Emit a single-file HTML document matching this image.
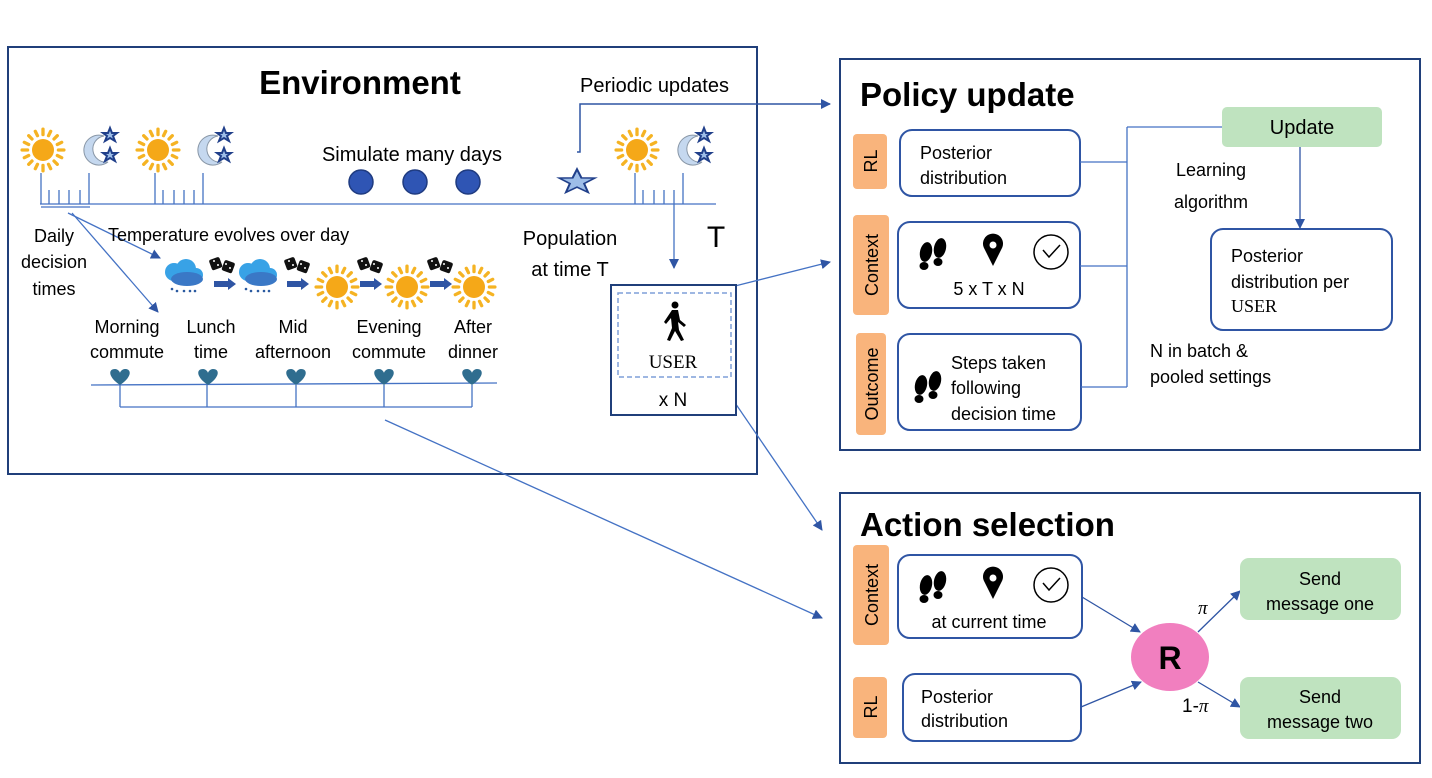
<!DOCTYPE html>
<html><head><meta charset="utf-8"><style>
body{margin:0;background:#fff}
svg text{font-family:"Liberation Sans",sans-serif;fill:#000}
</style></head><body>
<svg width="1432" height="773" viewBox="0 0 1432 773" xmlns="http://www.w3.org/2000/svg">
<defs>
<marker id="a" markerWidth="10" markerHeight="10" refX="9" refY="5" orient="auto" markerUnits="userSpaceOnUse" viewBox="0 0 10 10"><path d="M0,0 L10,5 L0,10 z" fill="#2f55a4"/></marker>
<g id="sun0"><g stroke="#f5b323" stroke-width="3" stroke-linecap="round">
<line x1="0" y1="-19" x2="0" y2="-14"/><line x1="0" y1="19" x2="0" y2="14"/><line x1="-19" y1="0" x2="-14" y2="0"/><line x1="19" y1="0" x2="14" y2="0"/>
<line x1="-13" y1="-13" x2="-10" y2="-10"/><line x1="13" y1="13" x2="10" y2="10"/><line x1="-13" y1="13" x2="-10" y2="10"/><line x1="13" y1="-13" x2="10" y2="-10"/>
<line x1="-7" y1="-17" x2="-5" y2="-13"/><line x1="7" y1="17" x2="5" y2="13"/><line x1="7" y1="-17" x2="5" y2="-13"/><line x1="-7" y1="17" x2="-5" y2="13"/>
<line x1="-17" y1="-7" x2="-13" y2="-5"/><line x1="17" y1="7" x2="13" y2="5"/><line x1="17" y1="-7" x2="13" y2="-5"/><line x1="-17" y1="7" x2="-13" y2="5"/></g>
<circle r="10" fill="#f5a818"/></g>
<g id="sun"><use href="#sun0" transform="scale(1.1)"/></g>
<g id="moon"><path d="M8,-14 A15,15 0 1 0 12,12 A12,12 0 1 1 8,-14z" fill="#c5d8ef" stroke="#8a98a8"/>
<path d="M14,-22 l2,5 5,0 -4,3 2,5 -5,-3 -5,3 2,-5 -4,-3 5,0z" fill="#9dbde8" stroke="#203f8a" stroke-width="2"/>
<path d="M14,-2 l2,5 5,0 -4,3 2,5 -5,-3 -5,3 2,-5 -4,-3 5,0z" fill="#9dbde8" stroke="#203f8a" stroke-width="2"/></g>
<g id="cloud"><circle cx="-8" cy="-3" r="9" fill="#38a2e6"/><circle cx="4" cy="-6" r="10" fill="#38a2e6"/><circle cx="14" cy="0" r="7" fill="#38a2e6"/>
<ellipse cx="5" cy="4" rx="16" ry="7" fill="#3a78c6"/><g fill="#2a5aa0"><circle cx="-10" cy="14" r="1.3"/><circle cx="-5" cy="16" r="1.3"/><circle cx="2" cy="16" r="1.3"/><circle cx="8" cy="16" r="1.3"/><circle cx="13" cy="16" r="1.3"/></g></g>
<g id="dice"><rect x="-12" y="-8" width="11" height="11" rx="2" fill="#111" transform="rotate(-20 -6 -3)"/><rect x="1" y="-5" width="11" height="11" rx="2" fill="#111" transform="rotate(20 6 0)"/>
<g fill="#fff"><circle cx="-8" cy="-5" r="1"/><circle cx="-4" cy="-1" r="1"/><circle cx="4" cy="-2" r="1"/><circle cx="8" cy="2" r="1"/></g></g>
<path id="arr" d="M0,-3 h14 v-3 l8,6 -8,6 v-3 h-14z" fill="#2f55a4"/>
<path id="heart" d="M0,8 C-12,0 -12,-8 -5,-8 C-2,-8 0,-5 0,-4 C0,-5 2,-8 5,-8 C12,-8 12,0 0,8z" fill="#2f6d8f"/>
<g id="feet"><ellipse cx="-6" cy="2" rx="6" ry="10" fill="#000" transform="rotate(12 -6 2)"/><ellipse cx="-8" cy="16" rx="4.5" ry="4" fill="#000"/><ellipse cx="8" cy="-2" rx="6" ry="10" fill="#000" transform="rotate(12 8 -2)"/><ellipse cx="6" cy="12" rx="4.5" ry="4" fill="#000"/></g>
<g id="pin"><path d="M0,16 L-9,-2 A10,10 0 1 1 9,-2z" fill="#000"/><circle cy="-5" r="3.5" fill="#fff"/></g>
<g id="clock"><circle r="17" fill="#fff" stroke="#000" stroke-width="1.5"/><path d="M-8,-2 L-2,5 L9,-7" fill="none" stroke="#000" stroke-width="1.5"/></g>
</defs>

<!-- Environment -->
<rect x="8" y="47" width="749" height="427" fill="none" stroke="#203f7a" stroke-width="2"/>
<text x="360" y="94" font-size="33" font-weight="bold" text-anchor="middle">Environment</text>
<text x="580" y="92" font-size="20">Periodic updates</text>
<polyline points="577,152 580,152 580,104 830,104" fill="none" stroke="#2f55a4" stroke-width="1.5" marker-end="url(#a)"/>
<path d="M0,-15 L3.53,-4.85 14.27,-4.64 5.71,1.85 8.82,12.14 0,6 -8.82,12.14 -5.71,1.85 -14.27,-4.64 -3.53,-4.85z" fill="#9dbde8" stroke="#203f8a" stroke-width="1.7" transform="translate(577,182) scale(1.25,0.85)"/>
<use href="#sun" x="43" y="150"/><use href="#moon" x="96" y="150"/>
<use href="#sun" x="158" y="150"/><use href="#moon" x="210" y="150"/>
<use href="#sun" x="637" y="150"/><use href="#moon" x="690" y="150"/>
<g stroke="#4472c4" stroke-width="1.3" fill="none">
<line x1="40" y1="204" x2="716" y2="204"/>
<line x1="41" y1="173" x2="41" y2="204"/><line x1="49" y1="190" x2="49" y2="204"/><line x1="59" y1="190" x2="59" y2="204"/><line x1="69" y1="190" x2="69" y2="204"/><line x1="80" y1="190" x2="80" y2="204"/><line x1="89" y1="173" x2="89" y2="204"/>
<line x1="155" y1="173" x2="155" y2="204"/><line x1="163" y1="190" x2="163" y2="204"/><line x1="174" y1="190" x2="174" y2="204"/><line x1="184" y1="190" x2="184" y2="204"/><line x1="194" y1="190" x2="194" y2="204"/><line x1="203" y1="173" x2="203" y2="204"/>
<line x1="635" y1="173" x2="635" y2="204"/><line x1="643" y1="190" x2="643" y2="204"/><line x1="654" y1="190" x2="654" y2="204"/><line x1="664" y1="190" x2="664" y2="204"/><line x1="674" y1="190" x2="674" y2="204"/><line x1="683" y1="173" x2="683" y2="204"/>
<line x1="41" y1="207" x2="90" y2="207"/>
<line x1="68" y1="213" x2="160" y2="258" marker-end="url(#a)"/>
<line x1="72" y1="213" x2="158" y2="312" marker-end="url(#a)"/>
<line x1="91" y1="385" x2="497" y2="383"/>
<line x1="120" y1="385" x2="120" y2="407"/><line x1="207" y1="385" x2="207" y2="407"/><line x1="296" y1="385" x2="296" y2="407"/><line x1="384" y1="385" x2="384" y2="407"/><line x1="472" y1="385" x2="472" y2="407"/>
<line x1="120" y1="407" x2="472" y2="407"/>
<line x1="674" y1="204" x2="674" y2="268" marker-end="url(#a)"/>
<line x1="735" y1="286" x2="830" y2="262" marker-end="url(#a)"/>
<line x1="718" y1="378" x2="822" y2="530" marker-end="url(#a)"/>
<line x1="385" y1="420" x2="822" y2="618" marker-end="url(#a)"/>
</g>
<g fill="#2f55b4" stroke="#1f3b80" stroke-width="1.5"><circle cx="361" cy="182" r="12"/><circle cx="415" cy="182" r="12"/><circle cx="468" cy="182" r="12"/></g>
<text x="412" y="161" font-size="20" text-anchor="middle">Simulate many days</text>
<g font-size="18" text-anchor="middle"><text x="54" y="242">Daily</text><text x="54" y="268">decision</text><text x="54" y="295">times</text></g>
<text x="108" y="241" font-size="18">Temperature evolves over day</text>
<use href="#cloud" x="182" y="275"/><use href="#arr" x="214" y="284"/><use href="#cloud" x="256" y="275"/><use href="#arr" x="287" y="284"/>
<use href="#sun" x="337" y="287"/><use href="#arr" x="360" y="284"/><use href="#sun" x="407" y="287"/><use href="#arr" x="430" y="284"/><use href="#sun" x="474" y="287"/>
<use href="#dice" x="222" y="266"/><use href="#dice" x="297" y="266"/><use href="#dice" x="370" y="266"/><use href="#dice" x="440" y="266"/>
<g font-size="18" text-anchor="middle">
<text x="127" y="333">Morning</text><text x="127" y="358">commute</text>
<text x="211" y="333">Lunch</text><text x="211" y="358">time</text>
<text x="293" y="333">Mid</text><text x="293" y="358">afternoon</text>
<text x="389" y="333">Evening</text><text x="389" y="358">commute</text>
<text x="473" y="333">After</text><text x="473" y="358">dinner</text></g>
<use href="#heart" x="120" y="377"/><use href="#heart" x="208" y="377"/><use href="#heart" x="296" y="377"/><use href="#heart" x="384" y="377"/><use href="#heart" x="472" y="377"/>
<g font-size="20" text-anchor="middle"><text x="570" y="245">Population</text><text x="570" y="276">at time T</text></g>
<text x="716" y="247" font-size="30" text-anchor="middle">T</text>
<rect x="611" y="285" width="125" height="130" fill="#fff" stroke="#203f7a" stroke-width="2"/>
<rect x="618" y="293" width="113" height="84" fill="none" stroke="#7f9fd8" stroke-width="1.5" stroke-dasharray="5,3"/>
<g fill="#000"><circle cx="675" cy="305" r="3.5"/><path d="M672,310 L678,310 L680,320 L686,325 L684,327 L678,322 L679,330 L684,340 L681,341 L675,331 L670,341 L667,340 L672,328 L671,318 L666,324 L664,322 z"/></g>
<text x="673" y="368" font-size="19" text-anchor="middle" style="font-family:'Liberation Serif',serif" fill="#333">USER</text>
<text x="673" y="406" font-size="19" text-anchor="middle">x N</text>

<!-- Policy update -->
<rect x="840" y="59" width="580" height="391" fill="none" stroke="#203f7a" stroke-width="2"/>
<text x="860" y="106" font-size="33" font-weight="bold">Policy update</text>
<g fill="#f9b47c"><rect x="853" y="134" width="34" height="55" rx="4"/><rect x="853" y="215" width="36" height="100" rx="4"/><rect x="856" y="333" width="30" height="102" rx="4"/>
<rect x="853" y="545" width="36" height="100" rx="4"/><rect x="853" y="677" width="34" height="61" rx="4"/></g>
<g font-size="18" font-weight="normal">
<text transform="translate(877,161) rotate(-90)" text-anchor="middle">RL</text>
<text transform="translate(878,265) rotate(-90)" text-anchor="middle">Context</text>
<text transform="translate(878,384) rotate(-90)" text-anchor="middle">Outcome</text>
<text transform="translate(878,595) rotate(-90)" text-anchor="middle">Context</text>
<text transform="translate(877,707) rotate(-90)" text-anchor="middle">RL</text></g>
<g fill="#fff" stroke="#2f55a4" stroke-width="2">
<rect x="900" y="130" width="180" height="66" rx="12"/><rect x="898" y="222" width="182" height="86" rx="12"/><rect x="898" y="334" width="183" height="96" rx="12"/>
<rect x="1211" y="229" width="181" height="101" rx="12"/>
<rect x="898" y="555" width="184" height="83" rx="12"/><rect x="903" y="674" width="178" height="67" rx="12"/></g>
<g font-size="18"><text x="920" y="159">Posterior</text><text x="920" y="184">distribution</text>
<text x="989" y="295" text-anchor="middle">5 x T x N</text>
<text x="951" y="369">Steps taken</text><text x="951" y="394">following</text><text x="951" y="420">decision time</text>
<text x="1231" y="262">Posterior</text><text x="1231" y="288">distribution per</text>
<text x="1231" y="312" style="font-family:'Liberation Serif',serif" fill="#333">USER</text>
<text x="1176" y="176">Learning</text><text x="1174" y="208">algorithm</text>
<text x="1150" y="357">N in batch &amp;</text><text x="1150" y="383">pooled settings</text>
<text x="989" y="628" text-anchor="middle">at current time</text>
<text x="921" y="703">Posterior</text><text x="921" y="727">distribution</text></g>
<use href="#feet" x="932" y="250"/><use href="#pin" x="993" y="250"/><use href="#clock" x="1051" y="252"/>
<use href="#feet" x="927" y="383"/>
<use href="#feet" x="932" y="583"/><use href="#pin" x="993" y="583"/><use href="#clock" x="1051" y="585"/>
<g stroke="#4472c4" stroke-width="1.3" fill="none">
<line x1="1080" y1="162" x2="1127" y2="162"/><line x1="1080" y1="266" x2="1127" y2="266"/><line x1="1081" y1="387" x2="1127" y2="387"/>
<line x1="1127" y1="127" x2="1127" y2="387"/><line x1="1127" y1="127" x2="1222" y2="127"/>
<line x1="1300" y1="147" x2="1300" y2="228" stroke="#2f55a4" marker-end="url(#a)"/>
</g>
<rect x="1222" y="107" width="160" height="40" rx="5" fill="#bfe3bf"/>
<text x="1302" y="134" font-size="20" text-anchor="middle">Update</text>

<!-- Action selection -->
<rect x="840" y="493" width="580" height="270" fill="none" stroke="#203f7a" stroke-width="2"/>
<text x="860" y="536" font-size="33" font-weight="bold">Action selection</text>
<g stroke="#2f55a4" stroke-width="1.3"><line x1="1082" y1="597" x2="1140" y2="632" marker-end="url(#a)"/><line x1="1081" y1="707" x2="1141" y2="682" marker-end="url(#a)"/>
<line x1="1198" y1="632" x2="1240" y2="591" marker-end="url(#a)"/><line x1="1198" y1="682" x2="1240" y2="707" marker-end="url(#a)"/></g>
<ellipse cx="1170" cy="657" rx="39" ry="34" fill="#f17fbf"/>
<text x="1170" y="669" font-size="32" font-weight="bold" text-anchor="middle">R</text>
<text x="1198" y="614" font-size="19" font-style="italic" style="font-family:'Liberation Serif',serif">π</text>
<text x="1182" y="712" font-size="19">1-<tspan font-style="italic" style="font-family:'Liberation Serif',serif">π</tspan></text>
<rect x="1240" y="558" width="161" height="62" rx="9" fill="#bfe3bf"/><rect x="1240" y="677" width="161" height="62" rx="9" fill="#bfe3bf"/>
<g font-size="18" text-anchor="middle"><text x="1320" y="585">Send</text><text x="1320" y="610">message one</text><text x="1320" y="703">Send</text><text x="1320" y="728">message two</text></g>
</svg>
</body></html>
